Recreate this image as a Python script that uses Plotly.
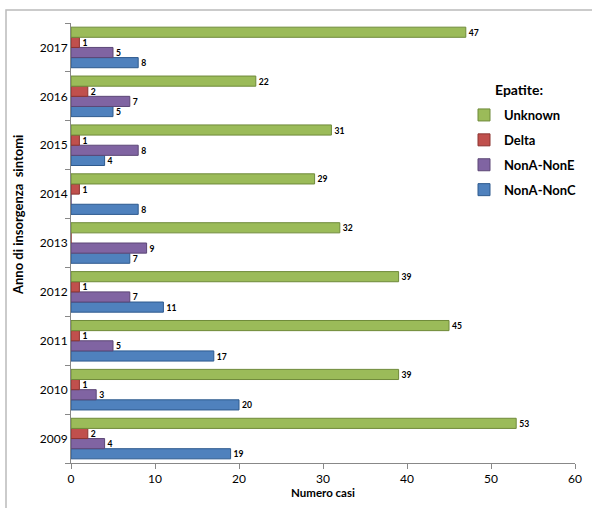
import plotly.graph_objects as go

years = ["2009", "2010", "2011", "2012", "2013", "2014", "2015", "2016", "2017"]
nona_nonc = [19, 20, 17, 11, 7, 8, 4, 5, 8]
nona_none = [4, 3, 5, 7, 9, 0, 8, 7, 5]
delta = [2, 1, 1, 1, 0, 1, 1, 2, 1]
unknown = [53, 39, 45, 39, 32, 29, 31, 22, 47]

series = [
    ("NonA-NonC", nona_nonc, "#4F81BD", "#2E5A8E", 4),
    ("NonA-NonE", nona_none, "#8064A2", "#5C4776", 3),
    ("Delta", delta, "#C0504D", "#8C3431", 2),
    ("Unknown", unknown, "#9BBB59", "#6F8A3A", 1),
]

FONT = "Lato, Open Sans, Liberation Sans, sans-serif"
L, R, T, B = 71, 575, 23, 463
PW, PH = R - L, B - T

fig = go.Figure()
for name, vals, col, edge, rank in series:
    fig.add_trace(go.Bar(
        y=years, x=vals, name=name, orientation="h", legendgroup=name,
        legendrank=rank,
        marker=dict(color=col, line=dict(color=edge, width=1)),
        text=[str(v) if v else "" for v in vals],
        textposition="outside", cliponaxis=False,
        textfont=dict(family=FONT, size=11, color="black", weight="bold"),
    ))

fig.update_layout(
    width=592, height=508,
    paper_bgcolor="white", plot_bgcolor="white",
    barmode="group", bargap=0.17, bargroupgap=0.0,
    margin=dict(l=L, r=592 - R, t=T, b=508 - B, autoexpand=False),
    font=dict(family=FONT, size=12, color="black"),
    showlegend=True,
    legend=dict(
        traceorder="grouped",
        x=(464 - L) / PW, y=1 - (100 - T) / PH, xanchor="left", yanchor="top",
        font=dict(size=13, weight="bold"),
        itemwidth=30, tracegroupgap=5,
        bgcolor="rgba(255,255,255,0)",
    ),
    annotations=[
        dict(text="<b>Epatite:</b>", xref="paper", yref="paper",
             x=(493 - L) / PW, y=1 - (89 - T) / PH,
             xanchor="left", yanchor="middle", showarrow=False,
             font=dict(size=14)),
        dict(text="<b>Anno di insorgenza  sintomi</b>", xref="paper", yref="paper",
             x=(18 - L) / PW, y=1 - (215 - T) / PH, textangle=-90,
             xanchor="center", yanchor="middle", showarrow=False,
             font=dict(size=13)),
    ],
    xaxis=dict(
        range=[0, 60], dtick=10, showgrid=False, zeroline=False, automargin=False,
        showline=True, linecolor="#888888", ticks="outside", ticklen=5,
        tickcolor="#888888",
        title=dict(text="<b>Numero casi</b>", font=dict(size=11.5), standoff=3),
    ),
    yaxis=dict(
        showgrid=False, showline=True, linecolor="#888888", automargin=False,
        ticks="outside", ticklen=5, tickcolor="#888888", tickson="boundaries",
    ),
    shapes=[dict(type="rect", xref="paper", yref="paper",
                 x0=(6 - L) / PW, x1=(600 - L) / PW, y0=1 - (520 - T) / PH, y1=1 + (T - 10) / PH,
                 line=dict(color="#BBBBBB", width=1.5), layer="below")],
)

fig.write_html("out.html", config={"displayModeBar": False},
               post_script="document.body.style.margin='0';document.body.style.overflow='hidden';")
